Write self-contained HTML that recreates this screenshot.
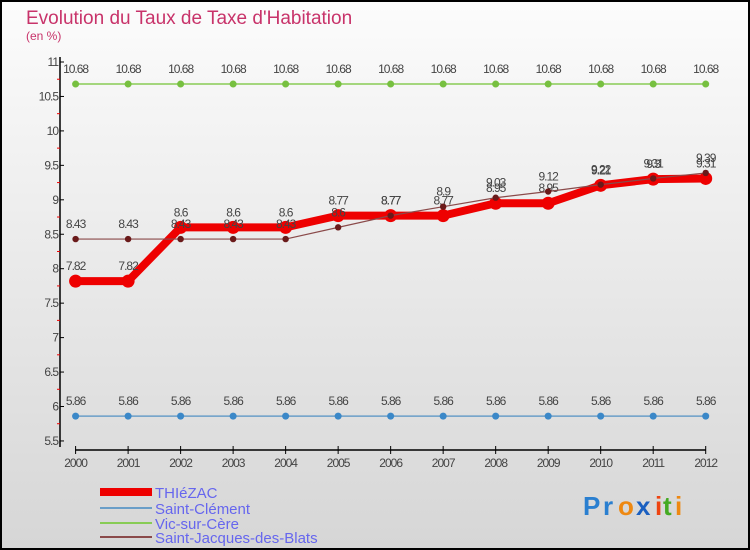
<!DOCTYPE html>
<html><head><meta charset="utf-8"><style>
body{margin:0;background:#fff}
svg{display:block;font-family:"Liberation Sans",sans-serif}
</style></head><body>
<svg width="750" height="550" viewBox="0 0 750 550">
<defs><linearGradient id="bg" x1="0" y1="0" x2="0" y2="1"><stop offset="0" stop-color="#fcfcfc"/><stop offset="1" stop-color="#d6d6d6"/></linearGradient></defs>
<rect x="1" y="1" width="748" height="548" fill="url(#bg)" stroke="#000" stroke-width="2"/>
<text x="26" y="24" font-size="19" fill="#c8336a">Evolution du Taux de Taxe d'Habitation</text>
<text x="26" y="40" font-size="12" fill="#c8336a">(en %)</text>
<g id="axes"></g>
<g id="series"></g>
<g>
<rect x="100" y="488" width="52" height="8" fill="#e00"/>
<text x="155" y="498" font-size="15" fill="#6666ee">THIéZAC</text>
<line x1="100" x2="152" y1="508" y2="508" stroke="#6a9ec8" stroke-width="2"/>
<text x="155" y="514" font-size="15" fill="#6666ee">Saint-Clément</text>
<line x1="100" x2="152" y1="523" y2="523" stroke="#88cc55" stroke-width="2"/>
<text x="155" y="529" font-size="15" fill="#6666ee">Vic-sur-Cère</text>
<line x1="100" x2="152" y1="537" y2="537" stroke="#8a4a4a" stroke-width="2"/>
<text x="155" y="543" font-size="15" fill="#6666ee">Saint-Jacques-des-Blats</text>
</g>
<g font-size="26" font-weight="bold">
<text x="583" y="515" fill="#2a7fd0">P</text><text x="603" y="515" fill="#2a7fd0">r</text><text x="618" y="515" fill="#ee8811">o</text><text x="636" y="515" fill="#1a5fc0">x</text><text x="655" y="515" fill="#ee4411">i</text><text x="663" y="515" fill="#44aa22">t</text><text x="675" y="515" fill="#ee8811">i</text>
</g>
</svg>
<script>
const years=[2000,2001,2002,2003,2004,2005,2006,2007,2008,2009,2010,2011,2012];
const thiezac=[7.82,7.82,8.6,8.6,8.6,8.77,8.77,8.77,8.95,8.95,9.21,9.3,9.31];
const saintClement=[5.86,5.86,5.86,5.86,5.86,5.86,5.86,5.86,5.86,5.86,5.86,5.86,5.86];
const vicSurCere=[10.68,10.68,10.68,10.68,10.68,10.68,10.68,10.68,10.68,10.68,10.68,10.68,10.68];
const saintJacques=[8.43,8.43,8.43,8.43,8.43,8.6,8.77,8.9,9.03,9.12,9.22,9.31,9.39];
const yTicks=[5.5,6,6.5,7,7.5,8,8.5,9,9.5,10,10.5,11];
const NS="http://www.w3.org/2000/svg";
const X=i=>75.6+i*(705.7-75.6)/(years.length-1);
const Y=v=>62+(11-v)*68.9;
function mk(t,a,p){const e=document.createElementNS(NS,t);for(const k in a)e.setAttribute(k,a[k]);p.appendChild(e);return e;}
const ax=document.getElementById('axes');
let yl=mk('line',{x1:60,x2:60,y1:57,y2:447,stroke:'#000','stroke-width':1.5},ax);


let xl=mk('line',{x1:75,x2:706,y1:450,y2:450,stroke:'#000','stroke-width':1.5},ax);


yTicks.forEach((v,i)=>{
 mk('line',{x1:60,x2:64,y1:Y(v),y2:Y(v),stroke:'#000'},ax);
 if(i<yTicks.length-1) mk('line',{x1:57,x2:60,y1:Y(v+0.25),y2:Y(v+0.25),stroke:'#e00'},ax);
 const t=mk('text',{x:58,y:Y(v)+4,'text-anchor':'end','font-size':12,fill:'#444','letter-spacing':'-1'},ax);
 t.textContent=v;
 
 
});
years.forEach((yr,i)=>{
 mk('line',{x1:X(i),x2:X(i),y1:446,y2:454,stroke:'#000'},ax);
 const t=mk('text',{x:X(i),y:467,'text-anchor':'middle','font-size':12,fill:'#444','letter-spacing':'-1'},ax);
 t.textContent=yr;
 
 
});
const sg=document.getElementById('series');
function series(vals,name,col,w,r,dot){
 const g=mk('g',{},sg);
 
 
 mk('polyline',{points:vals.map((v,i)=>X(i)+','+Y(v)).join(' '),fill:'none',stroke:col,'stroke-width':w,'stroke-linejoin':'round'},g);
 vals.forEach((v,i)=>{
  const c=mk('circle',{cx:X(i),cy:Y(v),r:r,fill:dot},g);
  
  
  const t=mk('text',{x:X(i),y:Y(v)-11,'text-anchor':'middle','font-size':12,fill:'#444','letter-spacing':'-1'},g);
  t.textContent=v;
  
  
 });
}
series(vicSurCere,'vic-sur-cere-series','#88cc55',1.5,3.5,'#77c040');
series(saintClement,'saint-clement-series','#6a9ec8',1.5,3.5,'#3b88c8');
series(thiezac,'thiezac-series','#ee0000',8,6.5,'#ee0000');
series(saintJacques,'saint-jacques-series','#8a4a4a',1.2,3.2,'#6a1a1a');
</script>
</body></html>
